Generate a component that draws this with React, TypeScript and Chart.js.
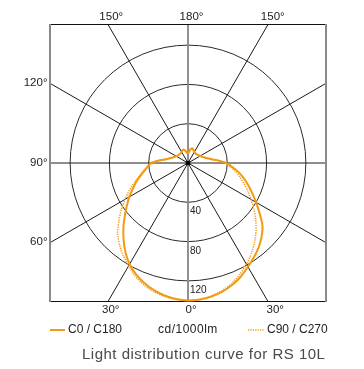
import React, { useEffect, useRef } from 'react';
import { Chart, registerables } from 'chart.js';

Chart.register(...registerables);

// Angles (gamma, 0° = nadir) in 5° steps
const ANGLES = [0, 5, 10, 15, 20, 25, 30, 35, 40, 45, 50, 55, 60, 65, 70, 75, 80, 85, 90,
  95, 100, 105, 110, 115, 120, 125, 130, 135, 140, 145, 150, 155, 160, 165, 170, 175, 180];

// cd/1000lm, C0 / C180 plane (solid)
const C0_RIGHT = [140, 139.5, 138, 135.5, 132, 127.5, 122, 117, 112, 106, 99, 89, 80, 72, 65, 58.5, 52, 45, 39,
  30.5, 23.5, 19.5, 17, 15.5, 14.5, 13.5, 13, 12.5, 12.5, 12.5, 13, 14, 15, 15.5, 14, 11.5, 9.5];
const C180_LEFT = [140, 139, 137, 134, 130, 125, 119, 111, 102, 93, 84, 76, 69, 62, 56, 50, 45, 41, 37.5,
  29.5, 22.5, 19, 16.5, 15, 14, 13, 12.5, 12.5, 12.5, 12.5, 13, 14, 14.5, 13.5, 12, 10.5, 9.5];

// cd/1000lm, C90 / C270 plane (dotted)
const C90_RIGHT = [140, 139.5, 137.5, 134.5, 130.5, 125, 119, 112.5, 105.5, 98, 90, 82, 74, 67, 60.5, 54.5, 49, 43.5, 38.5,
  30, 23, 19, 16.5, 15, 14, 13, 12.5, 12, 12, 12, 12.5, 13.5, 14.5, 15, 13.5, 11, 9.5];
const C270_LEFT = [140, 139.5, 138, 135.5, 132, 127, 121, 115, 108.5, 101.5, 92, 83, 74, 66, 58, 51.5, 46, 42, 38,
  30, 23, 19, 16.5, 15, 14, 13, 12.5, 12.5, 12.5, 12.5, 12.5, 13.5, 14, 13, 11.5, 10, 9.5];

const RING_VALUES = [40, 80, 120];
const SPOKE_ANGLES = [0, 30, 60, 90, 120, 150, 180];
const SPOKE_LABELS = ['0°', '30°', '60°', '90°', '120°', '150°', '180°'];
const SERIES_NAMES = ['C0 / C180', 'C90 / C270'];
const UNIT_LABEL = 'cd/1000lm';
const TITLE = 'Light distribution curve for RS 10L';

const ORANGE = '#f39a12';
const FONT = '"Liberation Sans", Arial, Helvetica, sans-serif';

function toPoints(left: number[], right: number[]) {
  const pts: { x: number; y: number }[] = [];
  for (let i = ANGLES.length - 1; i >= 0; i--) {
    const g = (ANGLES[i] * Math.PI) / 180;
    pts.push({ x: -left[i] * Math.sin(g), y: -left[i] * Math.cos(g) });
  }
  for (let i = 1; i < ANGLES.length; i++) {
    const g = (ANGLES[i] * Math.PI) / 180;
    pts.push({ x: right[i] * Math.sin(g), y: -right[i] * Math.cos(g) });
  }
  return pts;
}

function spokeEnd(a: any, cx: number, cy: number, s: number, deg: number) {
  const hw = (a.right - a.left) / 2;
  const hh = (a.bottom - a.top) / 2;
  const g = (deg * Math.PI) / 180;
  const dx = s * Math.sin(g);
  const dy = Math.cos(g);
  const t = Math.min(Math.abs(dx) > 1e-9 ? hw / Math.abs(dx) : 1e9, Math.abs(dy) > 1e-9 ? hh / Math.abs(dy) : 1e9);
  return { x: cx + dx * t, y: cy + dy * t };
}

const polarGrid = {
  id: 'polarGrid',
  beforeDatasetsDraw(chart: any) {
    const { ctx, chartArea: a, scales } = chart;
    const xs = scales.x;
    const ys = scales.y;
    const cx = xs.getPixelForValue(0);
    const cy = ys.getPixelForValue(0);
    ctx.save();
    // rings
    ctx.strokeStyle = '#2a2a2a';
    ctx.lineWidth = 1;
    RING_VALUES.forEach((r) => {
      const rp = xs.getPixelForValue(r) - cx;
      ctx.beginPath();
      ctx.arc(cx, cy, rp, 0, Math.PI * 2);
      ctx.stroke();
    });
    // spokes
    [-1, 1].forEach((s) => {
      SPOKE_ANGLES.forEach((deg) => {
        const e = spokeEnd(a, cx, cy, s, deg);
        const vertical = deg === 0 || deg === 180;
        ctx.strokeStyle = vertical ? '#8a8a8a' : '#1a1a1a';
        ctx.lineWidth = vertical ? 1.5 : 1;
        ctx.beginPath();
        ctx.moveTo(cx, cy);
        ctx.lineTo(e.x, e.y);
        ctx.stroke();
      });
    });
    // frame
    ctx.strokeStyle = '#111';
    ctx.lineWidth = 1;
    ctx.beginPath();
    ctx.moveTo(a.left, a.top + 0.5);
    ctx.lineTo(a.right, a.top + 0.5);
    ctx.moveTo(a.left, a.bottom - 0.5);
    ctx.lineTo(a.right, a.bottom - 0.5);
    ctx.stroke();
    ctx.strokeStyle = '#8a8a8a';
    ctx.lineWidth = 2;
    ctx.beginPath();
    ctx.moveTo(a.left, a.top);
    ctx.lineTo(a.left, a.bottom);
    ctx.moveTo(a.right, a.top);
    ctx.lineTo(a.right, a.bottom);
    ctx.stroke();
    ctx.restore();
  },
  afterDatasetsDraw(chart: any) {
    const { ctx, chartArea: a, scales } = chart;
    const xs = scales.x;
    const ys = scales.y;
    const cx = xs.getPixelForValue(0);
    const cy = ys.getPixelForValue(0);
    ctx.save();
    // center dot
    ctx.fillStyle = '#000';
    ctx.beginPath();
    ctx.arc(cx, cy, 2.3, 0, Math.PI * 2);
    ctx.fill();

    // ring labels
    ctx.fillStyle = '#222';
    ctx.font = `10px ${FONT}`;
    ctx.textAlign = 'left';
    ctx.textBaseline = 'alphabetic';
    RING_VALUES.forEach((r) => {
      const yp = ys.getPixelForValue(-r);
      ctx.fillText(String(r), cx + 2, yp + 12);
    });

    // angle labels
    ctx.font = `11.5px ${FONT}`;
    [-1, 1].forEach((s) => {
      SPOKE_ANGLES.forEach((deg, i) => {
        if (s === 1 && (deg === 0 || deg === 180)) return;
        const e = spokeEnd(a, cx, cy, s, deg);
        const label = SPOKE_LABELS[i];
        if (Math.abs(e.y - a.bottom) < 1) {
          ctx.textAlign = 'center';
          ctx.fillText(label, e.x + (s > 0 && deg !== 0 ? 7 : 3), a.bottom + 11);
        } else if (Math.abs(e.y - a.top) < 1) {
          ctx.textAlign = 'center';
          ctx.fillText(label, e.x + (s > 0 && deg !== 180 ? 4.5 : 3.5), a.top - 4);
        } else if (s < 0) {
          ctx.textAlign = 'right';
          ctx.fillText(label, a.left - 2.5, e.y + 2.5);
        }
      });
    });

    // legend
    const ly = 330;
    ctx.font = `12px ${FONT}`;
    ctx.fillStyle = '#222';
    ctx.textAlign = 'left';
    ctx.textBaseline = 'middle';
    ctx.strokeStyle = ORANGE;
    ctx.lineWidth = 2;
    ctx.beginPath();
    ctx.moveTo(50, ly);
    ctx.lineTo(65, ly);
    ctx.stroke();
    ctx.fillText(SERIES_NAMES[0], 68, ly);
    (ctx as any).letterSpacing = '0.5px';
    ctx.fillText(UNIT_LABEL, 158, ly);
    (ctx as any).letterSpacing = '0px';
    ctx.lineWidth = 1.5;
    ctx.setLineDash([1.2, 1.2]);
    ctx.beginPath();
    ctx.moveTo(248, ly);
    ctx.lineTo(264, ly);
    ctx.stroke();
    ctx.setLineDash([]);
    ctx.fillText(SERIES_NAMES[1], 267, ly);

    // title
    ctx.font = `15px ${FONT}`;
    (ctx as any).letterSpacing = '0.5px';
    ctx.fillStyle = '#4a4a4a';
    ctx.textAlign = 'left';
    ctx.textBaseline = 'alphabetic';
    ctx.fillText(TITLE, 82, 359);
    (ctx as any).letterSpacing = '0px';
    ctx.restore();
  },
};

export default function App() {
  const ref = useRef<HTMLCanvasElement>(null);
  useEffect(() => {
    if (!ref.current) return;
    const chart = new Chart(ref.current, {
      type: 'scatter',
      data: {
        datasets: [
          {
            label: SERIES_NAMES[1],
            data: toPoints(C270_LEFT, C90_RIGHT),
            showLine: true,
            borderColor: ORANGE,
            borderWidth: 1.5,
            borderDash: [1.2, 1.2],
            pointRadius: 0,
            tension: 0.2,
          },
          {
            label: SERIES_NAMES[0],
            data: toPoints(C180_LEFT, C0_RIGHT),
            showLine: true,
            borderColor: ORANGE,
            borderWidth: 2,
            pointRadius: 0,
            tension: 0.2,
          },
        ],
      },
      options: {
        responsive: false,
        animation: false,
        layout: { padding: { left: 50, right: 38, top: 24, bottom: 67 } },
        scales: {
          x: { display: false, min: -140.5, max: 140.5 },
          y: { display: false, min: -141.5, max: 141.5 },
        },
        plugins: {
          legend: { display: false },
          tooltip: { enabled: false },
        },
      },
      plugins: [polarGrid],
    });
    return () => chart.destroy();
  }, []);
  return (
    <div style={{ position: 'fixed', left: 0, top: 0, width: 364, height: 369, background: '#fff' }}>
      <canvas ref={ref} width={364} height={369} />
    </div>
  );
}
